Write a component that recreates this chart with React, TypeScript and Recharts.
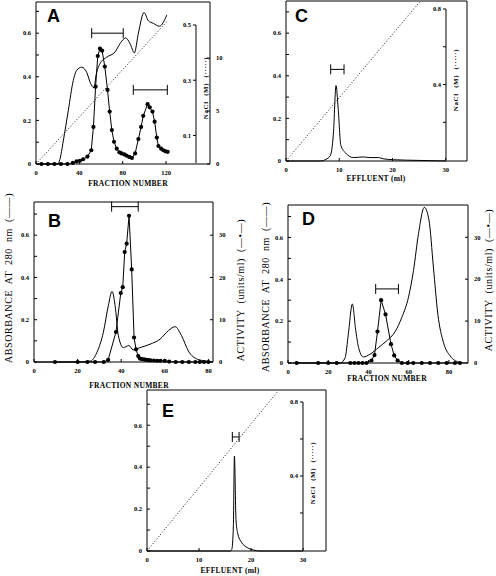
import React from 'react'
import { ComposedChart, Line, Scatter, ErrorBar, XAxis, YAxis } from 'recharts'

type Pt = [number, number]

// A: fraction number vs absorbance / activity / NaCl gradient
const absA: Pt[] = [
  [0, 0], [10, 0], [20, 0], [22, 0.02], [25.2, 0.106], [29.8, 0.245], [34.4, 0.383], [37.6, 0.43],
  [42.2, 0.444], [46.8, 0.42], [50.5, 0.368], [53.6, 0.349], [55.4, 0.406], [59, 0.46], [65.3, 0.49],
  [73, 0.514], [77.5, 0.552], [82.8, 0.578], [86.8, 0.552], [90.8, 0.51], [94.5, 0.6], [99.7, 0.695],
  [103.7, 0.657], [108.3, 0.645], [113.9, 0.632], [120.7, 0.683],
]
const actA: Pt[] = [
  [5, 0], [11, 0], [17, 0], [23, 0], [29, 0], [34, 0.1], [37.5, 0.25], [40.5, 0.3], [43.5, 0.45],
  [47.5, 0.7], [51, 1.3], [53, 3.5], [55, 7.3], [57, 10.2], [59, 10.9], [61, 10.7], [63.5, 9.2],
  [66, 7.0], [68, 4.95], [70, 3.2], [72, 2.1], [74.5, 1.45], [77, 1.1], [79, 1.0], [81.5, 0.9],
  [83.5, 0.8], [86, 0.67], [88.5, 0.57], [91.5, 1.0], [94.5, 2.35], [97, 3.5], [99, 4.55],
  [103, 5.65], [105, 5.35], [107.5, 4.95], [109.5, 4.0], [111.5, 2.5], [113, 1.7], [115.5, 1.45],
  [117.5, 1.3], [119.5, 1.2], [121.5, 1.15],
]
const naclA: Pt[] = [[0, 0], [120.7, 0.512]]
const poolsA = [[51.4, 80.5, 0.6], [89.8, 121.2, 0.34]]

// B
const absB: Pt[] = [
  [0, 0], [22, 0], [26, 0.005], [28.8, 0.044], [31.8, 0.14], [34.1, 0.267], [35.8, 0.334],
  [37.2, 0.267], [38.7, 0.124], [41, 0.068], [43.5, 0.078], [45.5, 0.057], [48.6, 0.068],
  [53.2, 0.084], [57.8, 0.108], [61.6, 0.148], [64.7, 0.167], [67.7, 0.124], [70.8, 0.052],
  [75, 0.013], [80, 0.003], [82, 0],
]
const actB: Pt[] = [
  [9.6, 0], [20, 0], [24.5, 0], [28, 0], [32, 0], [34, 0.5], [37.6, 7.1], [39.8, 16.3], [40.7, 17.7],
  [41.6, 26], [42.5, 28], [43.6, 34.6], [44.8, 21.9], [45.9, 5.8], [46.8, 3.0], [47.8, 1.4],
  [48.6, 0.8], [49.5, 0.7], [50.5, 0.6], [51.5, 0.5], [52.5, 0.45], [53.5, 0.4], [55, 0.35],
  [56.5, 0.3], [58, 0.3], [60, 0.25], [62, 0.1], [65, 0], [68, 0], [71, 0], [74, 0], [76, 0],
  [78, 0], [80, 0],
]
const poolsB = [[35.6, 47.8, 0.735]]

// C: effluent (ml)
const absC: Pt[] = [
  [0, 0], [6.5, 0], [7.5, 0.008], [8.3, 0.024], [8.9, 0.126], [9.4, 0.354], [9.8, 0.247],
  [10.3, 0.074], [11.1, 0.04], [12.7, 0.016], [14.5, 0.019], [15.8, 0.016], [17.4, 0.016],
  [18.3, 0.01], [20.2, 0.006], [24.6, 0.003], [30, 0],
]
const naclC: Pt[] = [[0, 0], [25.2, 0.84]]
const poolsC = [[8.4, 10.9, 0.43]]

// D
const absD: Pt[] = [
  [0, 0], [26, 0], [28.4, 0.025], [30, 0.138], [32, 0.282], [33.7, 0.154], [35.3, 0.066],
  [37.5, 0.029], [40.8, 0.042], [45, 0.074], [49.1, 0.106], [53.2, 0.149], [56.6, 0.218],
  [59.9, 0.314], [62.4, 0.442], [64.9, 0.619], [67.8, 0.744], [70.1, 0.683], [72.3, 0.458],
  [74.5, 0.234], [77.3, 0.098], [80.6, 0.034], [84.8, 0.005], [88, 0],
]
const actD: Pt[] = [
  [4.3, 0], [15, 0], [20, 0], [24.2, 0], [31, 0], [33, 0], [35, 0], [37, 0], [39, 0], [41.5, 0.6],
  [43, 1.9], [44.5, 7.5], [46.3, 15], [48.5, 11.6], [51.2, 4.5], [52.8, 1.8], [54.5, 0.6],
  [56.6, 0], [59.5, 0], [62.3, 0], [66.5, 0], [70.6, 0], [74.7, 0], [78.9, 0], [83, 0], [85.5, 0],
]
const poolsD = [[43.6, 54.9, 0.354]]

// E
const absE: Pt[] = [
  [0, 0], [16, 0], [16.3, 0.008], [16.6, 0.12], [16.8, 0.453], [17.1, 0.152], [17.4, 0.088],
  [18.2, 0.04], [19.1, 0.019], [20.4, 0.005], [21.7, 0], [30, 0],
]
const naclE: Pt[] = [[0, 0], [25.2, 0.86]]
const poolsE = [[16.4, 17.7, 0.544]]

// ticks
const absTicks = [0, 0.1, 0.2, 0.3, 0.4, 0.5, 0.6, 0.7]
const absLabels = [0, 0.2, 0.4, 0.6]
const fracTicksA = [0, 40, 80, 120]
const fracTicks = [0, 20, 40, 60, 80]
const mlTicks = [0, 10, 20, 30]
const actTicksA = [0, 5, 10]
const actTicks = [0, 10, 20, 30]
const naclTicksA = [0.1, 0.3, 0.5]
const naclTicks = [0.2, 0.4, 0.6, 0.8]
const naclLabels = [0.4, 0.8]

const SERIF = '"Liberation Serif", "DejaVu Serif", serif'
const tickStyle = { fontSize: 6.5, fontFamily: SERIF, fontWeight: 700, fill: '#000' }
const ink = { stroke: '#000', strokeWidth: 1 }

const fmt = (labels: number[]) => (v: number) =>
  labels.some((l) => Math.abs(l - v) < 1e-9) ? String(v) : ''

const toObj = (d: Pt[]) => d.map(([x, y]) => ({ x, y }))

type PanelProps = {
  plot: { l: number; t: number; r: number; b: number }
  xMax: number
  xTicks: number[]
  absMax: number
  absData: Pt[]
  act?: { max: number; ticks: number[]; data: Pt[] }
  nacl?: { max: number; at: number; top: number; ticks: number[]; labels: number[]; data: Pt[] }
  pools: number[][]
}

function Panel({ plot, xMax, xTicks, absMax, absData, act, nacl, pools }: PanelProps) {
  const { l, t, r, b } = plot
  const w = r - l
  const h = b - t
  const poolData = pools.map(([from, to, y]) => ({ x: (from + to) / 2, y, err: (to - from) / 2 }))

  // the NaCl axis stands inside the frame, so it gets its own small chart
  let naclAxis = null
  if (nacl) {
    const ax = l + (nacl.at / xMax) * w
    const topPx = b - (nacl.top / nacl.max) * h
    naclAxis = (
      <div style={{ position: 'absolute', left: ax - 30, top: topPx - 6 }}>
        <ComposedChart width={34} height={b - topPx + 12} margin={{ top: 6, bottom: 6, left: 0, right: 4 }}>
          <XAxis type="number" dataKey="x" domain={['dataMin', 'dataMax']} hide />
          <YAxis
            type="number"
            domain={[0, nacl.top]}
            allowDataOverflow
            ticks={nacl.ticks}
            interval={0}
            width={30}
            tickSize={3}
            tickMargin={2}
            tickFormatter={fmt(nacl.labels)}
            tick={tickStyle}
            axisLine={ink}
            tickLine={ink}
          />
          <Line data={toObj(nacl.data)} dataKey="y" stroke="none" dot={false} isAnimationActive={false} />
        </ComposedChart>
      </div>
    )
  }

  return (
    <>
      <div style={{ position: 'absolute', left: l - 30, top: t - 3 }}>
        <ComposedChart width={w + 55} height={h + 29} margin={{ top: 2, right: 0, bottom: 0, left: 0 }}>
          <XAxis
            xAxisId="b"
            dataKey="x"
            type="number"
            domain={[0, xMax]}
            ticks={xTicks}
            interval={0}
            height={25}
            tickSize={-3}
            tickMargin={9}
            tick={tickStyle}
            axisLine={ink}
            tickLine={ink}
          />
          <XAxis xAxisId="t" orientation="top" dataKey="x" type="number" domain={[0, xMax]} height={1} tick={false} tickLine={false} axisLine={ink} />
          <YAxis
            yAxisId="abs"
            type="number"
            domain={[0, absMax]}
            ticks={absTicks}
            interval={0}
            width={30}
            tickSize={-3}
            tickMargin={8}
            tickFormatter={fmt(absLabels)}
            tick={tickStyle}
            axisLine={ink}
            tickLine={ink}
          />
          <YAxis
            yAxisId="act"
            orientation="right"
            type="number"
            domain={[0, act ? act.max : 1]}
            ticks={act ? act.ticks : undefined}
            interval={0}
            width={25}
            tickSize={-3}
            tickMargin={9}
            tick={act ? tickStyle : false}
            tickLine={act ? ink : false}
            axisLine={ink}
          />
          <YAxis yAxisId="nacl" type="number" hide domain={[0, nacl ? nacl.max : 1]} />
          {nacl && (
            <Line
              xAxisId="b"
              yAxisId="nacl"
              data={toObj(nacl.data)}
              dataKey="y"
              type="linear"
              stroke="#000"
              strokeWidth={0.9}
              strokeDasharray="1 2"
              dot={false}
              isAnimationActive={false}
            />
          )}
          <Line
            xAxisId="b"
            yAxisId="abs"
            data={toObj(absData)}
            dataKey="y"
            type="monotone"
            stroke="#000"
            strokeWidth={1}
            dot={false}
            isAnimationActive={false}
          />
          {act && (
            <Line
              xAxisId="b"
              yAxisId="act"
              data={toObj(act.data)}
              dataKey="y"
              type="linear"
              stroke="#000"
              strokeWidth={1}
              dot={{ r: 2.1, fill: '#000', stroke: '#000', strokeWidth: 0 }}
              isAnimationActive={false}
            />
          )}
          <Scatter xAxisId="b" yAxisId="abs" data={poolData} dataKey="y" shape={() => <g />} isAnimationActive={false}>
            <ErrorBar dataKey="err" direction="x" width={5} stroke="#000" strokeWidth={1} isAnimationActive={false} />
          </Scatter>
        </ComposedChart>
      </div>
      {naclAxis}
    </>
  )
}

function VText({ x, y, children, size = 10, bold = false }: { x: number; y: number; children: string; size?: number; bold?: boolean }) {
  return (
    <text
      x={x}
      y={y}
      transform={`rotate(-90 ${x} ${y})`}
      textAnchor="middle"
      dominantBaseline="central"
      fontFamily={SERIF}
      fontSize={size}
      fontWeight={bold ? 700 : 400}
      style={{ letterSpacing: 0.6, wordSpacing: 3 }}
    >
      {children}
    </text>
  )
}

export default function App() {
  const letter = { fontFamily: '"Liberation Sans", Arial, sans-serif', fontWeight: 700, fontSize: 18 }
  const xTitle = { fontFamily: SERIF, fontWeight: 700, fontSize: 7.5, textAnchor: 'middle' as const, letterSpacing: 0.3 }
  return (
    <div style={{ position: 'absolute', left: 0, top: 0, width: 496, height: 576, background: '#fff' }}>
      <Panel
        plot={{ l: 36, t: 2, r: 210, b: 163 }}
        xMax={160.6}
        xTicks={fracTicksA}
        absMax={0.743}
        absData={absA}
        act={{ max: 15.3, ticks: actTicksA, data: actA }}
        nacl={{ max: 0.583, at: 147.7, top: 0.5, ticks: naclTicksA, labels: naclTicksA, data: naclA }}
        pools={poolsA}
      />
      <Panel
        plot={{ l: 286, t: 1, r: 467, b: 160 }}
        xMax={34}
        xTicks={mlTicks}
        absMax={0.751}
        absData={absC}
        nacl={{ max: 0.842, at: 30, top: 0.8, ticks: naclTicks, labels: naclLabels, data: naclC }}
        pools={poolsC}
      />
      <Panel
        plot={{ l: 34, t: 202, r: 213, b: 361 }}
        xMax={82.1}
        xTicks={fracTicks}
        absMax={0.757}
        absData={absB}
        act={{ max: 37.85, ticks: actTicks, data: actB }}
        pools={poolsB}
      />
      <Panel
        plot={{ l: 288, t: 205, r: 468, b: 362 }}
        xMax={89.5}
        xTicks={fracTicks}
        absMax={0.755}
        absData={absD}
        act={{ max: 37.7, ticks: actTicks, data: actD }}
        pools={poolsD}
      />
      <Panel
        plot={{ l: 147, t: 390, r: 326, b: 550 }}
        xMax={34.4}
        xTicks={mlTicks}
        absMax={0.768}
        absData={absE}
        nacl={{ max: 0.865, at: 30, top: 0.8, ticks: naclTicks, labels: naclLabels, data: naclE }}
        pools={poolsE}
      />
      <svg width={496} height={576} style={{ position: 'absolute', left: 0, top: 0, pointerEvents: 'none' }}>
        <text x={47} y={22} {...letter}>A</text>
        <text x={48} y={227} {...letter}>B</text>
        <text x={295} y={22} {...letter}>C</text>
        <text x={302} y={225} {...letter}>D</text>
        <text x={162} y={417} {...letter}>E</text>

        <text x={128} y={186} {...xTitle}>FRACTION NUMBER</text>
        <text x={129} y={388} {...xTitle}>FRACTION NUMBER</text>
        <text x={387} y={381} {...xTitle}>FRACTION NUMBER</text>
        <text x={376} y={181} {...xTitle}>EFFLUENT (ml)</text>
        <text x={230} y={573} {...xTitle}>EFFLUENT (ml)</text>

        <VText x={8} y={278}>ABSORBANCE  AT  280  nm  (——)</VText>
        <VText x={240} y={290}>ACTIVITY  (units/ml)  (—•—)</VText>
        <VText x={265} y={287}>ABSORBANCE  AT  280  nm  (——)</VText>
        <VText x={488} y={280}>ACTIVITY  (units/ml)  (—•—)</VText>

        <VText x={206} y={88} size={7} bold>NaCl (M)  (·····)</VText>
        <VText x={456} y={80} size={7} bold>NaCl (M)  (·····)</VText>
        <VText x={313} y={473} size={7} bold>NaCl (M)  (·····)</VText>
      </svg>
    </div>
  )
}
